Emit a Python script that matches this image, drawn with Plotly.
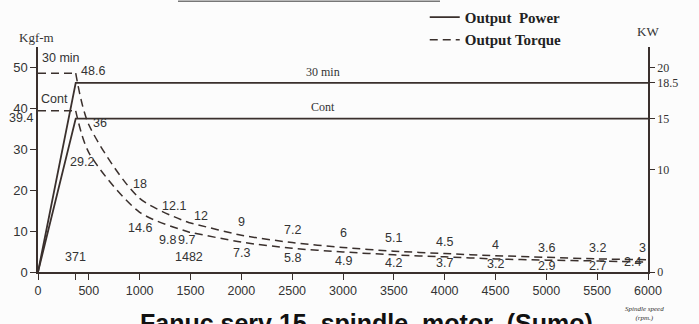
import plotly.graph_objects as go

# spindle speed (rpm) where values were read
rpm = [0, 371, 500, 1000, 1482, 1500, 2000, 2500, 3000, 3500, 4000, 4500, 5000, 5500, 6000]
torque_30min = [48.6, 48.6, 36, 18, 12.1, 12, 9, 7.2, 6, 5.1, 4.5, 4, 3.6, 3.2, 3]
torque_cont = [39.4, 39.4, 29.2, 14.6, 9.8, 9.7, 7.3, 5.8, 4.9, 4.2, 3.7, 3.2, 2.9, 2.7, 2.4]

power_rpm = [0, 371, 6000]
power_30min = [0, 18.5, 18.5]
power_cont = [0, 15, 15]

x_ticks = [0, 371, 500, 1000, 1500, 2000, 2500, 3000, 3500, 4000, 4500, 5000, 5500, 6000]
kgf_ticks = [0, 10, 20, 30, 40, 50]
kw_ticks = [0, 10, 15, 18.5, 20]
speed_marks = [371, 1482]

INK = '#3a302d'
SANS = 'Liberation Sans'
SERIF = 'Liberation Serif'

fig = go.Figure()

# output power (kW, right axis)
fig.add_trace(go.Scatter(x=power_rpm, y=power_30min, yaxis='y2', mode='lines',
                         line=dict(color=INK, width=1.8), name='Output  Power',
                         legendgroup='p', showlegend=True))
fig.add_trace(go.Scatter(x=power_rpm, y=power_cont, yaxis='y2', mode='lines',
                         line=dict(color=INK, width=1.8), legendgroup='p', showlegend=False))

# output torque (kgf-m, left axis): flat part + falling part
for i, tq in enumerate([torque_30min, torque_cont]):
    fig.add_trace(go.Scatter(x=rpm[:2], y=tq[:2], mode='lines',
                             line=dict(color=INK, width=1.5, dash='8px,5px'),
                             name='Output Torque', legendgroup='t', showlegend=(i == 0)))
    fig.add_trace(go.Scatter(x=rpm[1:], y=tq[1:], mode='lines',
                             line=dict(color=INK, width=1.5, dash='8px,5px', shape='spline', smoothing=0.8),
                             legendgroup='t', showlegend=False))

ann = []
lab = dict(size=12.5, family=SANS, color='#333')

# labels over the 30 min torque curve
up = {3: (0, 14), 4: (-15, 17), 5: (10, 7), 6: (0, 13), 7: (0, 13), 8: (0, 14), 9: (0, 13),
      10: (0, 12), 11: (0, 11), 12: (0, 9), 13: (0, 11), 14: (-6, 12)}
for i, (dx, dy) in up.items():
    ann.append(dict(x=rpm[i], y=torque_30min[i], text=str(torque_30min[i]), showarrow=False,
                    xshift=dx, yshift=dy, font=lab))
ann.append(dict(x=rpm[1], y=torque_30min[1], text=str(torque_30min[1]), showarrow=False,
                xanchor='left', xshift=3, yshift=2, font=lab))
ann.append(dict(x=rpm[2], y=torque_30min[2], text=str(torque_30min[2]), showarrow=False,
                xanchor='left', xshift=2, yshift=2, font=lab))

# labels under the continuous torque curve
down = {2: (-7, -9), 3: (0, -16), 4: (-21, -8), 5: (-4, -8), 6: (0, -11), 7: (0, -10), 8: (0, -9),
        9: (0, -8), 10: (0, -6), 11: (0, -5), 12: (0, -6), 13: (0, -5), 14: (-16, 0)}
for i, (dx, dy) in down.items():
    ann.append(dict(x=rpm[i], y=torque_cont[i], text=str(torque_cont[i]), showarrow=False,
                    xshift=dx, yshift=dy, font=lab))
ann.append(dict(x=0, y=torque_cont[0], text=str(torque_cont[0]), showarrow=False,
                xanchor='right', xshift=-3, yshift=-7, font=lab))

# speed marks near the axis
for s in speed_marks:
    ann.append(dict(x=s, y=0, text=str(s), showarrow=False, yshift=15, font=lab))

ann += [
    dict(x=0, y=torque_30min[0], text='30 min', showarrow=False, xanchor='left', xshift=2, yshift=15, font=lab),
    dict(x=0, y=torque_cont[0], text='Cont', showarrow=False, xanchor='left', xshift=1, yshift=12, font=lab),
    dict(x=2800, y=power_30min[-1], yref='y2', text='30 min', showarrow=False, yshift=11,
         font=dict(size=12, family=SERIF, color='#333')),
    dict(x=2800, y=power_cont[-1], yref='y2', text='Cont', showarrow=False, yshift=12,
         font=dict(size=12, family=SERIF, color='#333')),
    dict(x=-0.003, y=1.04, xref='paper', yref='paper', xanchor='center', yanchor='middle',
         text='Kgf-m', showarrow=False, font=dict(size=13, family=SERIF, color='#333')),
    dict(x=1.0, y=1.067, xref='paper', yref='paper', xanchor='center', yanchor='middle',
         text='KW', showarrow=False, font=dict(size=13, family=SERIF, color='#333')),
    dict(x=0.995, y=-0.186, xref='paper', yref='paper', xanchor='center', yanchor='middle',
         text='<i>Spindle speed<br>(rpm.)</i>', showarrow=False,
         font=dict(size=7, family=SERIF, color='#333')),
    dict(x=0.164, y=-0.157, xref='paper', yref='paper', xanchor='left', yanchor='top',
         text='<b>Fanuc serv 15  spindle  motor  (Sumo)</b>', showarrow=False,
         font=dict(size=25, family=SANS, color='#111')),
]

fig.update_layout(
    width=699, height=324,
    template='none',
    paper_bgcolor='#fcfcfc', plot_bgcolor='#fcfcfc',
    margin=dict(l=38, r=51, t=47, b=52, autoexpand=False),
    annotations=ann,
    shapes=[dict(type='line', xref='paper', yref='paper', x0=0.2295, x1=0.659, y0=1.203, y1=1.203,
                 line=dict(color='#777', width=1.5))],
    legend=dict(x=0.634, y=1.205, xanchor='left', yanchor='top', bgcolor='rgba(0,0,0,0)',
                font=dict(size=15, family=SERIF, color='#222', weight='bold'),
                traceorder='grouped', tracegroupgap=0, itemwidth=30),
    xaxis=dict(range=[0, 6000], tickvals=x_ticks,
               ticktext=['' if v == 371 else str(v) for v in x_ticks],
               showgrid=False, zeroline=False, showline=True, linecolor=INK, linewidth=1.5,
               ticks='outside', ticklen=6, tickcolor=INK, automargin=False,
               tickfont=dict(size=12.5, family=SANS, color='#333')),
    yaxis=dict(range=[0, 55], tickvals=kgf_ticks, showgrid=False, zeroline=False,
               showline=True, linecolor=INK, linewidth=1.5, ticks='outside', ticklen=6,
               tickcolor=INK, automargin=False, tickfont=dict(size=13, family=SANS, color='#333')),
    yaxis2=dict(range=[0, 22], tickvals=kw_ticks, overlaying='y', side='right', showgrid=False,
                zeroline=False, showline=True, linecolor=INK, linewidth=1.5, ticks='outside',
                ticklen=5, tickcolor=INK, automargin=False,
                tickfont=dict(size=12, family=SERIF, color='#333')),
)

# drop the page's default body margin so the chart sits at the window's corner
fig.write_html("out.html", config={'displayModeBar': False},
               post_script="document.body.style.margin='0';")
